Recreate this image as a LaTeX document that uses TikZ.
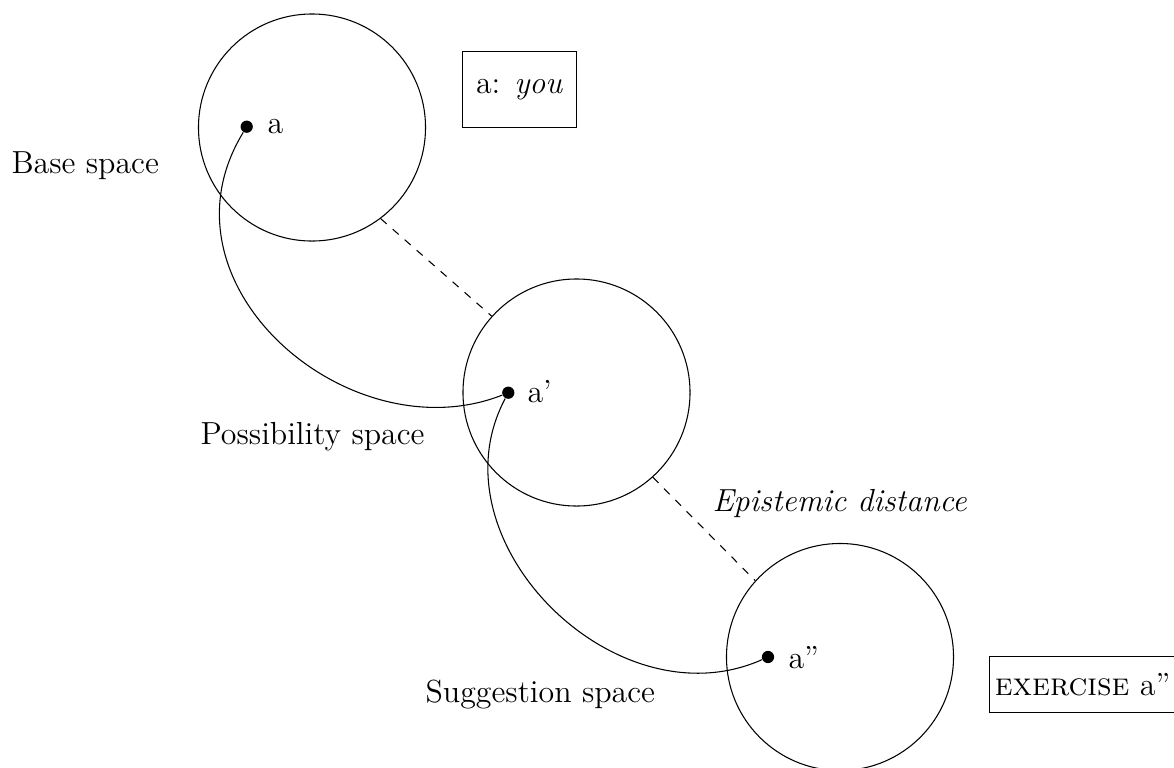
\documentclass[12pt,tikz,border=0pt]{standalone}
\begin{document}
\begin{tikzpicture}[x=0.3759pt,y=-0.3759pt,
  spacecirc/.style={draw,circle,minimum size=3cm,inner sep=0pt},
  dotnode/.style={circle,fill,inner sep=0pt,minimum size=4.6pt},
  txt/.style={inner sep=0pt,anchor=base west},
  link/.style={dashed}]
\useasboundingbox (0,0) rectangle (1174,767);
% spaces
\node[spacecirc] (s1) at (312,127.5) {};
\node[spacecirc] (s2) at (576.5,392.5) {};
\node[spacecirc] (s3) at (840,657) {};
% elements
\node[dotnode] (a)  at (246.7,126.7) {};
\node[dotnode] (a1) at (508.3,392.7) {};
\node[dotnode] (a2) at (768,657) {};
\node[txt] (la)  at (267,133) {a};
\node[txt] (la1) at (527,402.7) {a'};
\node[txt] (la2) at (788,668) {a''};
% space labels
\node[txt] (base) at (11,173) {Base space};
\node[txt] (poss) at (200,444) {Possibility space};
\node[txt] (sugg) at (425,702) {Suggestion space};
\node[txt] (epis) at (712,511) {\textit{Epistemic distance}};
% boxes
\node[draw,minimum width=1.5cm,minimum height=1cm] (key) at (519.5,89.5) {a: \textit{you}};
\node[draw,minimum height=0.75cm,inner xsep=2pt,anchor=west] (ex) at (989,684.5) {\textsc{exercise} a''};
% dashed links
\draw[link] (s1.-53) -- (s2.138);
\draw[link] (s2.-48) -- (s3.138);
% mapping curves
\draw (a) .. controls (150,285) and (350,455) .. (a1);
\draw (a1) .. controls (430,540) and (615,725) .. (a2);
\end{tikzpicture}
\end{document}
